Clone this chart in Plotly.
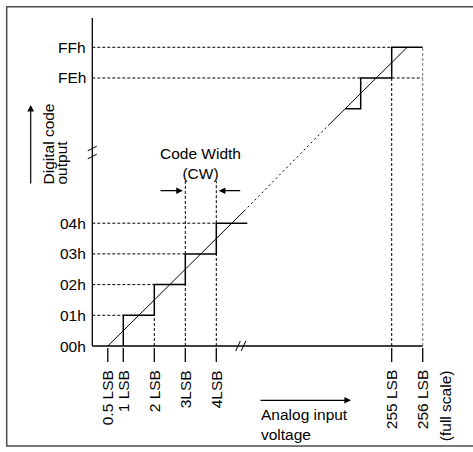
import plotly.graph_objects as go

# ---------------- data ----------------
low_codes = [0, 1, 2, 3, 4]                       # 00h..04h
low_code_labels = ["00h", "01h", "02h", "03h", "04h"]
low_transitions = [1, 2, 3, 4]                    # LSB where code steps up
low_step_end = 5
high_codes = [253, 254, 255]                      # FDh..FFh
high_code_labels = ["FDh", "FEh", "FFh"]
high_labelled = [254, 255]
high_transitions = [254, 255]
high_step_start = 253.5
high_step_end = 256
low_ticks = [0.5, 1, 2, 3, 4]
low_tick_labels = ["0.5 LSB", "1 LSB", "2 LSB", "3LSB", "4LSB"]
high_ticks = [255, 256]
high_tick_labels = ["255 LSB", "256 LSB"]
full_scale_note = "(full scale)"
ideal_offset = 0.5                                # ideal line: code = LSB - 0.5
ideal_low_range = [0.5, 4.9]
ideal_high_range = [252.95, 255.5]
cw_lsb = [3, 4]                                   # code width marks

# ---------------- geometry (layout only) ----------------
W, H = 473, 452
X0_PX, PX_LSB = 92.3, 31.0
Y0_PX, PX_CODE = 346.0, 30.7
X_BREAK, Y_BREAK = 245.342, 245.27
FONT = "Liberation Sans, Arial, sans-serif"
FS = 15.5


def U(lsb):
    return lsb if lsb < 100 else lsb - X_BREAK


def V(code):
    return code if code < 100 else code - Y_BREAK


def pu(px):
    return (px - X0_PX) / PX_LSB


def pv(py):
    return (Y0_PX - py) / PX_CODE


fig = go.Figure()


def add_line(xs, ys, width=1.0, dash="solid", color="black"):
    fig.add_trace(go.Scatter(x=xs, y=ys, mode="lines",
                             line=dict(color=color, width=width, dash=dash),
                             hoverinfo="skip", showlegend=False))


def segs(pairs):
    xs, ys = [], []
    for (x1, y1), (x2, y2) in pairs:
        xs += [x1, x2, None]
        ys += [y1, y2, None]
    return xs, ys


DASH = "3px,2px"

# dashed horizontal guides
hpairs = []
for c, t in zip(low_codes[1:], low_transitions):
    hpairs.append(((U(0), V(c)), (U(t), V(c))))
hpairs.append(((U(0), V(254)), (U(254), V(254))))
hpairs.append(((U(255), V(254)), (U(256), V(254))))
hpairs.append(((U(0), V(255)), (U(255), V(255))))
xs, ys = segs(hpairs)
add_line(xs, ys, 1.0, DASH)

# dashed vertical guides
vpairs = []
for i, t in enumerate(low_transitions):
    if i > 0:
        vpairs.append(((U(t), V(0)), (U(t), V(low_codes[i]))))
cw_top = pv(181)
for t in cw_lsb:
    vpairs.append(((U(t), V(low_codes[t])), (U(t), cw_top)))
vpairs.append(((U(255), V(0)), (U(255), V(254))))
xs, ys = segs(vpairs)
add_line(xs, ys, 1.0, DASH)
add_line([U(256), U(256)], [V(0), V(255)], 1.0, DASH, "#777777")

# axes
add_line([U(0), U(0)], [V(0), pv(18)], 1.3)
add_line([U(0), U(256)], [V(0), V(0)], 1.3)

# tick marks below x axis
tpairs = [((U(t), pv(348)), (U(t), pv(362))) for t in low_ticks + high_ticks]
xs, ys = segs(tpairs)
add_line(xs, ys, 1.3)

# break marks
bpairs = []
for py in (148.5, 156.5):
    bpairs.append(((pu(X0_PX - 4.5), pv(py + 2.3)), (pu(X0_PX + 4.5), pv(py - 2.3))))
for px in (238, 243.5):
    bpairs.append(((pu(px - 2.3), pv(Y0_PX + 5)), (pu(px + 2.3), pv(Y0_PX - 5))))
xs, ys = segs(bpairs)
add_line(xs, ys, 1.0)

# staircases
sx, sy = [], []
for i, t in enumerate(low_transitions):
    sx += [U(t), U(t)]
    sy += [V(low_codes[i]), V(low_codes[i + 1])]
sx.append(U(low_step_end)); sy.append(V(low_codes[-1]))
add_line(sx, sy, 1.5)

hx, hy = [U(high_step_start)], [V(high_codes[0])]
for i, t in enumerate(high_transitions):
    hx += [U(t), U(t)]
    hy += [V(high_codes[i]), V(high_codes[i + 1])]
hx.append(U(high_step_end)); hy.append(V(high_codes[-1]))
add_line(hx, hy, 1.5)

# ideal transfer line
lx = [U(v) for v in ideal_low_range]
ly = [V(v - ideal_offset) for v in ideal_low_range]
ux = [U(v) for v in ideal_high_range]
uy = [V(v - ideal_offset) for v in ideal_high_range]
add_line(lx, ly, 1.0)
add_line(ux, uy, 1.0)
add_line([lx[1], ux[0]], [ly[1], uy[0]], 1.0, "2px,3px")

ann = []


def text(x, y, s, xa="center", ya="middle", angle=0, size=FS, align="center"):
    ann.append(dict(x=x, y=y, xref="x", yref="y", text=s, showarrow=False,
                    xanchor=xa, yanchor=ya, textangle=angle, align=align,
                    font=dict(family=FONT, size=size, color="black")))


# y tick labels
for c, lab in zip(low_codes, low_code_labels):
    text(pu(87.5), V(c), lab, xa="right")
for c in high_labelled:
    text(pu(87.5), V(c), high_code_labels[high_codes.index(c)], xa="right")

# x tick labels
for t, lab in zip(low_ticks + high_ticks, low_tick_labels + high_tick_labels):
    text(U(t), pv(368), lab, ya="top", angle=-90)
text(U(256) + 23 / PX_LSB, pv(368), full_scale_note, ya="top", angle=-90)

# axis titles
text(pu(48), pv(187), "Digital code", ya="bottom", angle=-90)
text(pu(60.5), pv(187), "output", ya="bottom", angle=-90)
text(pu(259), pv(424), "Analog input<br>voltage", xa="left", align="left")

# code width
text((U(cw_lsb[0]) + U(cw_lsb[1])) / 2, pv(163), "Code Width<br>(CW)")


def arrow(x, y, ax, ay):
    ann.append(dict(x=x, y=y, ax=ax, ay=ay, xref="x", yref="y", axref="x", ayref="y",
                    text="", showarrow=True, arrowhead=2, arrowsize=1.1,
                    arrowwidth=1.2, arrowcolor="black", standoff=0))


cw_y = pv(190.7)
arrow(U(cw_lsb[0]) - 0.08, cw_y, pu(159), cw_y)
arrow(U(cw_lsb[1]) + 0.08, cw_y, pu(241.7), cw_y)
arrow(pu(30.7), pv(105), pu(30.7), pv(185))
arrow(pu(351), pv(400.3), pu(259), pv(400.3))

# open frame (right side runs off the picture)
fx0, fx1 = 6.7 / W, 1.0
fy0, fy1 = 1 - 446 / H, 1 - 6.7 / H
frame_path = f"M {fx1},{fy1} L {fx0},{fy1} L {fx0},{fy0} L {fx1},{fy0}"

fig.update_layout(
    width=W, height=H,
    margin=dict(l=0, r=0, t=0, b=0),
    paper_bgcolor="white", plot_bgcolor="white",
    showlegend=False, hovermode=False,
    xaxis=dict(visible=False, range=[pu(0), pu(W)], fixedrange=True),
    yaxis=dict(visible=False, range=[pv(H), pv(0)], fixedrange=True),
    annotations=ann,
    shapes=[dict(type="path", xref="paper", yref="paper", path=frame_path,
                 line=dict(color="#4d4d4d", width=1.5))],
)

fig.write_html("out.html")
